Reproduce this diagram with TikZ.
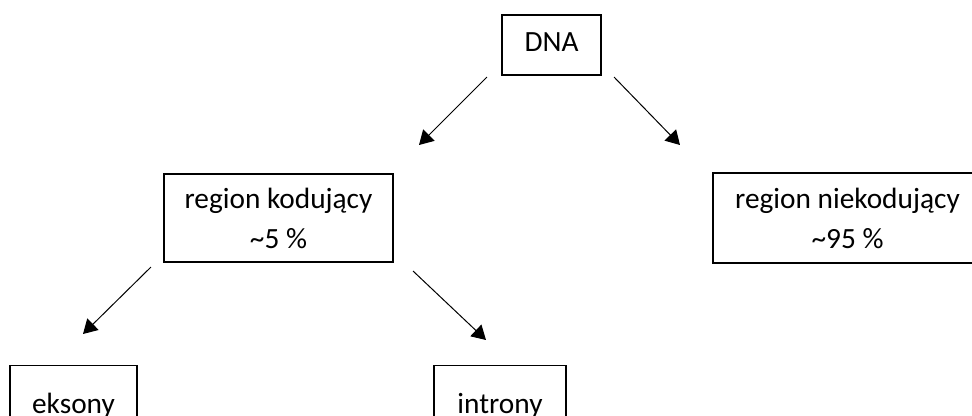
\documentclass[tikz,border=0pt]{standalone}
\usepackage{fontspec}
\setmainfont{Carlito}
\usepackage{tikz}
\usetikzlibrary{arrows.meta,positioning,calc}

\newdimen\px
\px=0.75pt

\begin{document}
\begin{tikzpicture}[x=0.75pt,y=-0.75pt,>={Triangle[length=10.5pt,width=12pt]},
box/.style={draw,line width=0.9pt,align=center,inner sep=0pt,
font=\fontsize{22}{30}\selectfont},
single/.style={text height=15pt,text depth=5pt},
link/.style={->,line width=0.75pt}]
\useasboundingbox (0,0) rectangle (972,415);
\clip (0,0) rectangle (972,415);
\node[box,single,minimum width=99\px,minimum height=60\px] (dna) at (551.5,45) {DNA};
\node[box,minimum width=229\px,minimum height=88\px] (kod) at (278.5,218) {region kodujący\\\textasciitilde5 \%};
\node[box,minimum width=269\px,minimum height=90\px] (niekod) at (847.5,218) {region niekodujący\\\textasciitilde95 \%};
\node[box,single,minimum width=127\px,minimum height=82\px,anchor=north] (eks) at (73.5,365) {eksony};
\node[box,single,minimum width=132\px,minimum height=82\px,anchor=north] (intr) at (500,365) {introny};
% free arrow ends
\coordinate (dnaL) at (487,77);
\coordinate (kodT) at (419,145);
\coordinate (dnaR) at (614,77);
\coordinate (niekodT) at (680,145);
\coordinate (kodL) at (151,267);
\coordinate (eksT) at (83,334);
\coordinate (kodR) at (413,271);
\coordinate (intrT) at (486,340);
\draw[link] (dnaL) -- (kodT);
\draw[link] (dnaR) -- (niekodT);
\draw[link] (kodL) -- (eksT);
\draw[link] (kodR) -- (intrT);
\end{tikzpicture}
\end{document}
